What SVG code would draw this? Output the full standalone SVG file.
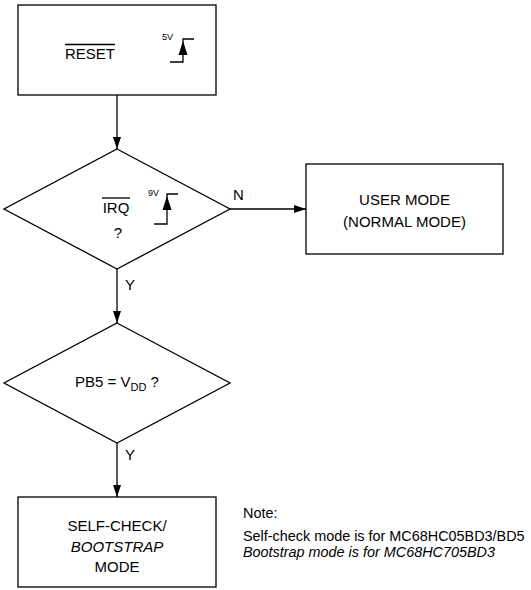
<svg xmlns="http://www.w3.org/2000/svg" width="531" height="590" viewBox="0 0 531 590">
<style>
.box{fill:#fff;stroke:#000;stroke-width:1.3}
.t{font-family:"Liberation Sans",Arial,sans-serif;font-size:15px;fill:#000}
.s{font-family:"Liberation Sans",Arial,sans-serif;font-size:9px;fill:#000}
.n{font-family:"Liberation Sans",Arial,sans-serif;font-size:14.4px;fill:#000}
.c{text-anchor:middle}
.i{font-style:italic}
.ln{fill:none;stroke:#000;stroke-width:1.3}
</style>
<defs>
<marker id="ah" viewBox="0 0 12 8" refX="12" refY="4" markerWidth="12" markerHeight="8" markerUnits="userSpaceOnUse" orient="auto">
<path d="M0,0 L12,4 L0,8 Z" fill="#000"/>
</marker>
</defs>
<g id="reset">
<rect class="box" x="18" y="5" width="198" height="90"/>
<text class="t c" x="90" y="59">RESET</text>
<line class="ln" x1="65" y1="44.5" x2="115" y2="44.5" stroke-width="1"/>
<text class="s" x="162" y="40">5V</text>
<path class="ln" d="M170,62 H183 V39 H194"/>
<polygon points="183,41 178.5,55 187.5,55" fill="#000"/>
</g>
<g id="irq">
<polygon class="box" points="117,149 230,209 117,269 4,209"/>
<text class="t c" x="116" y="213">IRQ</text>
<line class="ln" x1="102" y1="198" x2="130" y2="198" stroke-width="1"/>
<text class="t c" x="118" y="238">?</text>
<text class="s" x="148" y="196">9V</text>
<path class="ln" d="M154,224 H167 V194 H178"/>
<polygon points="167,196 162.5,210 171.5,210" fill="#000"/>
</g>
<g id="user">
<rect class="box" x="306" y="164" width="197" height="90"/>
<text class="t c" x="404.5" y="205">USER MODE</text>
<text class="t c" x="404.5" y="227">(NORMAL MODE)</text>
</g>
<g id="pb5">
<polygon class="box" points="117,323 230,383 117,443 4,383"/>
<text class="t c" x="117" y="387">PB5 = V<tspan font-size="11" dy="4">DD</tspan><tspan dy="-4"> ?</tspan></text>
</g>
<g id="selfcheck">
<rect class="box" x="18" y="497" width="198" height="90"/>
<text class="t c" x="117" y="531">SELF-CHECK/</text>
<text class="t c i" x="117" y="552">BOOTSTRAP</text>
<text class="t c" x="117" y="572">MODE</text>
</g>
<g id="note">
<text class="n" x="243" y="518">Note:</text>
<text class="n" x="243" y="541">Self-check mode is for MC68HC05BD3/BD5</text>
<text class="n i" x="243" y="557">Bootstrap mode is for MC68HC705BD3</text>
</g>
<g id="connectors">
<line class="ln" x1="117" y1="95" x2="117" y2="149" marker-end="url(#ah)"/>
<line class="ln" x1="117" y1="269" x2="117" y2="323" marker-end="url(#ah)"/>
<line class="ln" x1="117" y1="443" x2="117" y2="497" marker-end="url(#ah)"/>
<line class="ln" x1="230" y1="209" x2="306" y2="209" marker-end="url(#ah)"/>
<text class="t" x="233" y="200">N</text>
<text class="t" x="125" y="290">Y</text>
<text class="t" x="125" y="460">Y</text>
</g>
</svg>
